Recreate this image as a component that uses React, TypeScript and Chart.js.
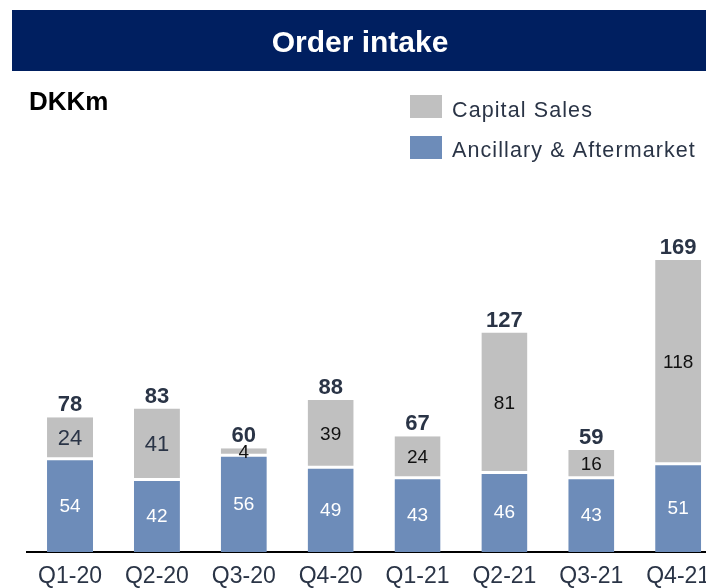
import React, { useEffect, useRef } from 'react';
import { Chart, registerables } from 'chart.js';

Chart.register(...registerables);

const categories = ['Q1-20', 'Q2-20', 'Q3-20', 'Q4-20', 'Q1-21', 'Q2-21', 'Q3-21', 'Q4-21'];
const ancillarySales = [54, 42, 56, 49, 43, 46, 43, 51];
const capitalSales = [24, 41, 4, 39, 24, 81, 16, 118];
const orderTotals = [78, 83, 60, 88, 67, 127, 59, 169];
const seriesNames = ['Capital Sales', 'Ancillary & Aftermarket'];
const chartTitle = 'Order intake';
const unitLabel = 'DKKm';
// which capital-sales labels are drawn in the larger, slate style
const capitalLabelLarge = [true, true, false, false, false, false, false, false];

const FONT = '"Liberation Sans", Arial, sans-serif';
const BLUE = '#6d8cb9';
const GRAY = '#c0c0c0';
const NAVY = '#001f60';
const TEXT = '#2a3446';

const overlayPlugin = {
  id: 'overlay',
  afterDatasetsDraw(chart: any) {
    const ctx = chart.ctx;
    ctx.save();
    ctx.textAlign = 'center';
    ctx.textBaseline = 'middle';
    const blueMeta = chart.getDatasetMeta(0);
    const grayMeta = chart.getDatasetMeta(1);
    blueMeta.data.forEach((el: any, i: number) => {
      const { x, y, base } = el.getProps(['x', 'y', 'base'], true);
      ctx.fillStyle = '#ffffff';
      ctx.font = `19px ${FONT}`;
      ctx.fillText(String(ancillarySales[i]), x, (y + base) / 2 + 1);
    });
    grayMeta.data.forEach((el: any, i: number) => {
      const { x, y, base } = el.getProps(['x', 'y', 'base'], true);
      if (capitalLabelLarge[i]) {
        ctx.fillStyle = TEXT;
        ctx.font = `22px ${FONT}`;
      } else {
        ctx.fillStyle = '#111111';
        ctx.font = `19px ${FONT}`;
      }
      ctx.fillText(String(capitalSales[i]), x, (y + base) / 2 + 1);
      ctx.save();
      ctx.textBaseline = 'alphabetic';
      ctx.fillStyle = TEXT;
      ctx.font = `bold 22px ${FONT}`;
      ctx.fillText(String(orderTotals[i]), x, y - 6);
      ctx.restore();
    });
    ctx.restore();
  },
  afterDraw(chart: any) {
    const ctx = chart.ctx;
    ctx.save();
    ctx.translate(-8, -8); // draw in page coordinates
    // banner
    ctx.fillStyle = NAVY;
    ctx.fillRect(12, 10, 720, 61);
    ctx.fillStyle = '#ffffff';
    ctx.font = `bold 30px ${FONT}`;
    ctx.textAlign = 'center';
    ctx.textBaseline = 'alphabetic';
    ctx.fillText(chartTitle, 360, 52);
    // unit
    ctx.fillStyle = '#000000';
    ctx.font = `bold 26px ${FONT}`;
    ctx.textAlign = 'left';
    ctx.fillText(unitLabel, 29, 110);
    // legend
    const items = [
      { color: GRAY, text: seriesNames[0], boxY: 95, base: 117 },
      { color: BLUE, text: seriesNames[1], boxY: 136, base: 157 },
    ];
    items.forEach((it) => {
      ctx.fillStyle = it.color;
      ctx.fillRect(410, it.boxY, 32, 23);
      ctx.fillStyle = TEXT;
      ctx.font = `21.5px ${FONT}`;
      (ctx as any).letterSpacing = '1.1px';
      ctx.fillText(it.text, 452, it.base);
      (ctx as any).letterSpacing = '0px';
    });
    ctx.restore();
  },
};

export default function App() {
  const ref = useRef<HTMLCanvasElement>(null);
  useEffect(() => {
    if (!ref.current) return;
    const chart = new Chart(ref.current, {
      type: 'bar',
      data: {
        labels: categories,
        datasets: [
          {
            label: seriesNames[1],
            data: ancillarySales,
            backgroundColor: BLUE,
            borderColor: '#ffffff',
            borderWidth: { top: 1.5, left: 0, right: 0, bottom: 0 },
            borderSkipped: false,
            categoryPercentage: 1,
            barPercentage: 0.53,
          },
          {
            label: seriesNames[0],
            data: capitalSales,
            backgroundColor: GRAY,
            borderColor: '#ffffff',
            borderWidth: { top: 0, left: 0, right: 0, bottom: 1.5 },
            borderSkipped: false,
            categoryPercentage: 1,
            barPercentage: 0.53,
          },
        ],
      },
      options: {
        responsive: false,
        animation: false,
        devicePixelRatio: 1,
        layout: { padding: { left: 18.6, right: 0.4, top: 198.4, bottom: 0.4 } },
        plugins: {
          legend: { display: false },
          tooltip: { enabled: false },
          title: { display: false },
        },
        scales: {
          x: {
            stacked: true,
            offset: true,
            grid: { display: false, drawTicks: false },
            border: { display: true, color: '#000000', width: 2 },
            ticks: {
              color: TEXT,
              font: { family: FONT, size: 23 },
              padding: 11,
              maxRotation: 0,
              autoSkip: false,
            },
          },
          y: {
            stacked: true,
            display: false,
            min: 0,
            max: 200,
          },
        },
      },
      plugins: [overlayPlugin],
    });
    return () => chart.destroy();
  }, []);
  return (
    <div style={{ position: 'relative', width: 706, height: 580, overflow: 'hidden', background: '#ffffff' }}>
      <canvas ref={ref} width={714} height={594} style={{ display: 'block', width: 714, height: 594 }} />
    </div>
  );
}
